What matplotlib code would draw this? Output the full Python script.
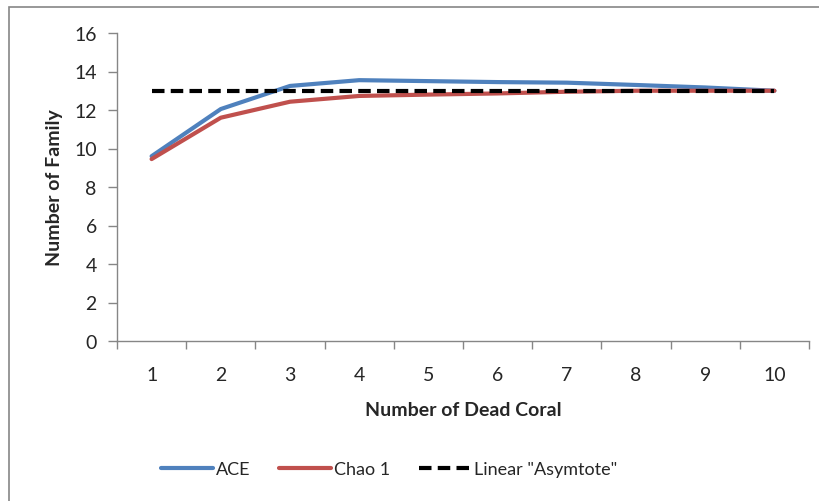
import matplotlib
matplotlib.use("Agg")
import matplotlib.pyplot as plt
from matplotlib.patches import Rectangle
import numpy as np

plt.rcParams['font.family'] = ['Lato', 'DejaVu Sans']

samples = [1, 2, 3, 4, 5, 6, 7, 8, 9, 10]
ace = [9.6, 12.05, 13.25, 13.55, 13.5, 13.45, 13.42, 13.3, 13.17, 13.0]
chao1 = [9.45, 11.6, 12.43, 12.73, 12.8, 12.86, 12.95, 13.0, 13.0, 13.0]
asymptote = [13, 13, 13, 13, 13, 13, 13, 13, 13, 13]
y_ticks = [0, 2, 4, 6, 8, 10, 12, 14, 16]

W, H = 820, 502
fig = plt.figure(figsize=(W / 100, H / 100), dpi=100)
ax = fig.add_axes([117 / W, 1 - 342 / H, (809 - 117) / W, (342 - 34) / H])

# outer chart border (extends beyond the right/bottom edges)
fig.patches.append(Rectangle((9 / W, -0.1), 1.2, 1 - 8 / H + 0.1,
                             transform=fig.transFigure, fill=False,
                             edgecolor='#868686', linewidth=1.2))

blue = '#4F81BD'
red = '#C0504D'
ax.plot(samples, ace, color=blue, lw=3.0, label='ACE', solid_capstyle='round')
ax.plot(samples, chao1, color=red, lw=3.0, label='Chao 1', solid_capstyle='round')
ax.plot(samples, asymptote, color='black', lw=3.0, dashes=(3, 1.5),
        label='Linear "Asymtote"')

ax.set_xlim(0.5, 10.5)
ax.set_ylim(0, 16)
ax.set_yticks(y_ticks)
ax.set_xticks(np.arange(0.5, 11.0, 1.0))
ax.set_xticklabels([])
ax.set_xticks(samples, minor=True)
ax.set_xticklabels([str(s) for s in samples], minor=True)

for s in ['top', 'right']:
    ax.spines[s].set_visible(False)
for s in ['left', 'bottom']:
    ax.spines[s].set_color('#868686')
    ax.spines[s].set_linewidth(1.0)

ax.tick_params(axis='y', direction='out', length=6.5, width=1.0, color='#868686',
               labelsize=14, labelcolor='#262626', pad=8)
ax.tick_params(axis='x', which='major', direction='out', length=5.5, width=1.0,
               color='#868686')
ax.tick_params(axis='x', which='minor', length=0, labelsize=14,
               labelcolor='#262626', pad=18)

ax.set_xlabel('Number of Dead Coral', fontsize=14, fontweight='bold',
              color='#262626', labelpad=13)
ax.set_ylabel('Number of Family', fontsize=14, fontweight='bold',
              color='#262626', labelpad=8)

leg = fig.legend(loc='center', bbox_to_anchor=(389 / W, 1 - 470 / H), ncol=3,
                 frameon=False, fontsize=13, handlelength=2.9,
                 handletextpad=0.15, columnspacing=1.6, labelcolor='#262626')

fig.savefig('out.png', dpi=100)
